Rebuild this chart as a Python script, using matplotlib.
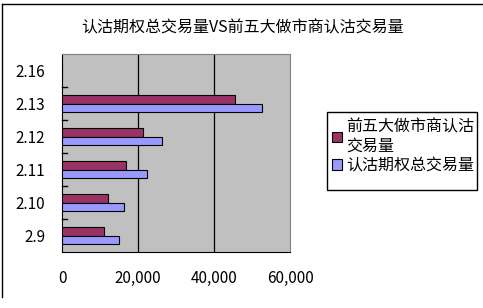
import numpy as np
import matplotlib.pyplot as plt
from matplotlib.lines import Line2D
from matplotlib.patches import Rectangle

plt.rcParams['font.family'] = ['Noto Sans CJK SC', 'DejaVu Sans']

# 数据 (从下到上)
dates = ['2.9', '2.10', '2.11', '2.12', '2.13', '2.16']
top5_put = [11150, 12200, 16900, 21400, 45600, 0]
total_put = [15100, 16200, 22450, 26400, 52700, 0]
series_names = ['前五大做市商认沽\n交易量', '认沽期权总交易量']
x_ticks = [0, 20000, 40000, 60000]
x_labels = ['0', '20,000', '40,000', '60,000']

W, H = 483, 308
fig = plt.figure(figsize=(W/100, H/100), dpi=100)
ax = fig.add_axes([62/W, 1-252/H, 228/W, 198/H])
ax.set_facecolor('#C0C0C0')

y = np.arange(len(dates))
h = 0.26
ax.barh(y + h/2, top5_put, height=h, color='#993366', edgecolor='black', linewidth=0.8, label=series_names[0], zorder=3)
ax.barh(y - h/2, total_put, height=h, color='#9999FF', edgecolor='black', linewidth=0.8, label=series_names[1], zorder=3)

ax.set_xlim(0, 60000)
ax.set_ylim(-0.5, len(dates) - 0.5)
ax.set_xticks(x_ticks)
ax.set_xticklabels(x_labels, fontsize=11)
ax.tick_params(axis='x', length=0, pad=13)
for xv in x_ticks[1:-1]:
    ax.axvline(xv, color='black', linewidth=0.9, zorder=2)

ax.set_yticks(y)
ax.set_yticklabels(dates, fontsize=11)
ax.tick_params(axis='y', length=0, pad=12)
for b in np.arange(0.5, len(dates) - 1, 1.0):
    ax.plot([0, 1300], [b, b], color='black', linewidth=1, zorder=4, clip_on=False)

for side in ['top', 'right']:
    ax.spines[side].set_color('#808080')
for side in ['left', 'bottom']:
    ax.spines[side].set_color('black')

fig.text(243/W, 1-28/H, '认沽期权总交易量VS前五大做市商认沽交易量', ha='center', va='center', fontsize=11.5)

# 图例
fig.add_artist(Rectangle((327/W, 1-190/H), 150/W, 78/H, facecolor='white',
                         edgecolor='black', linewidth=1, transform=fig.transFigure))
leg = fig.legend(loc='upper left', bbox_to_anchor=(321/W, 1-107/H), fontsize=11.5,
                 frameon=False, handlelength=0.6, handleheight=0.6,
                 handletextpad=0.3, borderpad=0.2, labelspacing=0.15)

# 图表外框 (仅左边和上边可见)
fig.add_artist(Line2D([2/W, 2/W], [1-4/H, 1-297/H], color='black', linewidth=1))
fig.add_artist(Line2D([2/W, 482/W], [1-4/H, 1-4/H], color='black', linewidth=1))

fig.savefig('out.png', dpi=100)
